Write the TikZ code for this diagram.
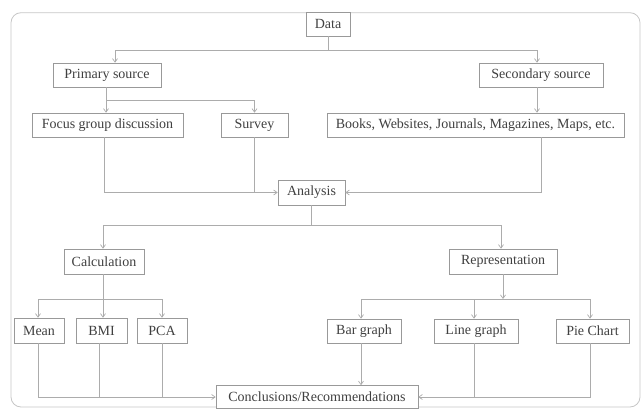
\documentclass[tikz,border=0pt]{standalone}
\usepackage{fontspec}
\setmainfont{Liberation Serif}
\usetikzlibrary{arrows.meta,shadows}

\tikzset{
    box/.style={draw=gray!80, fill=white, line width=0.6pt, minimum height=24pt,
        inner sep=1pt, text=black!75, font=\fontsize{14}{16}\selectfont,
        drop shadow={shadow xshift=0.9pt, shadow yshift=-0.9pt, fill=gray!60, opacity=1}},
    link/.style={draw=gray!65, line width=0.7pt},
    arr/.style={link, -{Straight Barb[length=3.5pt,width=5pt]}}
}

\begin{document}
\begin{tikzpicture}[x=1pt, y=-1pt]
            \useasboundingbox (0, 0) rectangle (642, 412);
            \draw[gray!45, line width=0.8pt, rounded corners=10pt] (11, 12.7) rectangle (640, 407);

            % boxes
            \node[box, minimum width=44pt] (data) at (328, 24) {Data};
            \node[box, minimum width=108pt] (primary) at (107, 75) {Primary source};
            \node[box, minimum width=124pt] (secondary) at (541, 75) {Secondary source};
            \node[box, minimum width=151pt] (focus) at (107.5, 125) {Focus group discussion};
            \node[box, minimum width=67pt] (survey) at (254.5, 125) {Survey};
            \node[box, minimum width=297pt] (books) at (475.5, 125) {Books, Websites, Journals, Magazines, Maps, etc.};
            \node[box, minimum width=67pt, minimum height=25pt] (analysis) at (311.5, 192.5) {Analysis};
            \node[box, minimum width=80pt, minimum height=25pt] (calc) at (104, 261.5) {Calculation};
            \node[box, minimum width=108pt, minimum height=25pt] (repr) at (503, 261.5) {Representation};
            \node[box, minimum width=50pt, minimum height=25pt] (mean) at (39, 330.5) {Mean};
            \node[box, minimum width=51pt, minimum height=25pt] (bmi) at (101.5, 330.5) {BMI};
            \node[box, minimum width=50pt, minimum height=25pt] (pca) at (162, 330.5) {PCA};
            \node[box, minimum width=74pt] (bar) at (364, 331) {Bar graph};
            \node[box, minimum width=84pt] (line) at (476, 331) {Line graph};
            \node[box, minimum width=73pt] (pie) at (592.5, 331) {Pie Chart};
            \node[box, minimum width=202pt, minimum height=23pt] (concl) at (317, 397) {Conclusions/Recommendations};

            % bus points
            \coordinate (dataBus) at (328, 50.7);
            \coordinate (primBus) at (106, 100.7);
            \coordinate (anaBus) at (311.5, 225.3);
            \coordinate (calcBus) at (103, 299);
            \coordinate (reprBus) at (503, 299);

            % data to sources
            \draw[link] (data) -- (dataBus);
            \draw[arr] (dataBus) -| ([xshift=8pt]primary.north);
            \draw[arr] (dataBus) -| ([xshift=-4pt]secondary.north);

            % sources to their kinds
            \draw[arr] (primary.south -| primBus) -- (focus.north -| primBus);
            \draw[arr] (primBus) -| (survey.north);
            \draw[arr] ([xshift=-4pt]secondary.south) -- ([xshift=-4pt]secondary.south |- books.north);

            % into analysis
            \draw[arr] ([xshift=-3.5pt]focus.south) |- (analysis.west);
            \draw[link] (survey.south) -- (survey.south |- analysis.west);
            \draw[arr] (books.south -| secondary.south) |- (analysis.east);

            % analysis to calculation and representation
            \draw[link] (analysis) -- (anaBus);
            \draw[arr] (anaBus) -| ([xshift=-1pt]calc.north);
            \draw[arr] (anaBus) -| ([xshift=-2pt]repr.north);

            % calculation
            \draw[link] (calc.south -| calcBus) -- (calcBus);
            \draw[arr] (calcBus) -| ([xshift=-1pt]mean.north);
            \draw[arr] (calcBus) -| ([xshift=1.5pt]bmi.north);
            \draw[arr] (calcBus) -| (pca.north);

            % representation
            \draw[arr] (repr.south) -- (reprBus);
            \draw[arr] (reprBus) -| ([xshift=-3pt]bar.north);
            \draw[arr] (reprBus) -| ([xshift=-2pt]line.north);
            \draw[arr] (reprBus) -| ([xshift=-2.5pt]pie.north);

            % into conclusions
            \draw[arr] ([xshift=-1pt]mean.south) |- (concl.west);
            \draw[link] ([xshift=-2.5pt]bmi.south) -- ([xshift=-2.5pt]bmi.south |- concl.west);
            \draw[link] (pca.south) -- (pca.south |- concl.west);
            \draw[arr] ([xshift=-3pt]bar.south) -- ([xshift=-3pt]bar.south |- concl.north);
            \draw[link] ([xshift=-2pt]line.south) -- ([xshift=-2pt]line.south |- concl.east);
            \draw[arr] ([xshift=-2.5pt]pie.south) |- (concl.east);
\end{tikzpicture}
\end{document}
